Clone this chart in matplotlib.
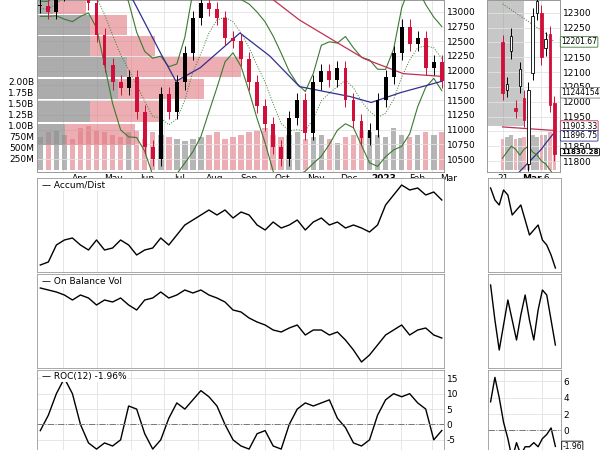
import numpy as np
import pandas as pd
import matplotlib
matplotlib.use("Agg")
import matplotlib.pyplot as plt
import matplotlib.dates as mdates

plt.rcParams["axes.unicode_minus"] = False

# weekly data
closes = [13100, 13000, 13300, 13600, 13500, 13400, 13150, 12600, 12100, 11800,
          11700, 11900, 11300, 10700, 10500, 11600, 11300, 11800, 12300, 12900,
          13150, 13050, 12900, 12550, 12500, 12200, 11800, 11400, 11100, 10700,
          10500, 11200, 11500, 10950, 11800, 12000, 11850, 12050, 11500, 11150,
          10850, 11000, 11500, 11900, 12300, 12750, 12450, 12550, 12050, 12150, 11830]
volume_b = [0.75, 0.85, 0.9, 0.8, 0.7, 0.95, 1.0, 0.9, 0.85, 0.8,
            0.75, 0.85, 0.9, 0.7, 0.85, 0.8, 0.75, 0.7, 0.65, 0.7,
            0.75, 0.8, 0.85, 0.7, 0.75, 0.8, 0.85, 0.9, 0.95, 0.8,
            0.75, 0.8, 0.85, 0.7, 0.75, 0.8, 0.7, 0.6, 0.75, 0.8,
            0.9, 0.85, 0.8, 0.75, 0.95, 0.8, 0.75, 0.8, 0.85, 0.8, 0.85]
accum_dist = [15, 18, 35, 40, 42, 35, 30, 40, 30, 32, 40, 35, 25, 30, 32, 42, 35, 45, 55, 60,
              65, 70, 65, 70, 62, 68, 65, 55, 50, 58, 52, 55, 60, 50, 58, 62, 55, 58, 52, 55,
              52, 48, 55, 75, 85, 95, 90, 92, 85, 88, 80]
obv = [92, 90, 88, 85, 80, 85, 82, 75, 80, 78, 82, 75, 70, 80, 82, 88, 82, 85, 90, 87,
       90, 85, 82, 78, 70, 68, 62, 58, 55, 50, 48, 52, 55, 45, 50, 50, 45, 48, 40, 30,
       18, 25, 35, 45, 50, 55, 45, 50, 52, 45, 42]
roc12 = [-2, 3, 10, 15, 10, 0, -6, -8, -6, -7, -5, 6, 5, -3, -8, -5, 2, 7, 5, 8,
         11, 9, 6, 0, -5, -7, -8, -3, -2, -7, -8, 0, 5, 7, 6, 7, 8, 2, -1, -6,
         -7, -5, 3, 8, 10, 9, 10, 7, 5, -5, -1.96]
dates = pd.date_range("2022-03-11", "2023-03-10", periods=len(closes))

ma200_dates = pd.to_datetime(["2022-03-08", "2022-06-19", "2022-08-17", "2022-10-05", "2022-11-01",
                              "2022-12-03", "2022-12-30", "2023-02-03", "2023-03-10"])
ma200_vals = [14800, 14200, 13700, 13250, 12860, 12500, 12200, 11950, 11903]
ma50_dates = pd.to_datetime(["2022-03-08", "2022-04-25", "2022-06-03", "2022-06-28", "2022-07-12",
                             "2022-08-03", "2022-09-08", "2022-10-05", "2022-11-01", "2022-12-17",
                             "2023-01-05", "2023-02-01", "2023-03-10"])
ma50_vals = [13900, 13500, 13200, 12300, 11820, 12050, 12640, 12250, 11730, 11560, 11460, 11630, 11820]

# volume by price zones (price edges, fraction of panel width)
vbp_edges = [13200, 12966, 12611, 12257, 11885, 11514, 11125, 10736]
vbp_up = [0.04, 0.13, 0.13, 0.22, 0.20, 0.13, 0.07]
vbp_total = [0.12, 0.22, 0.29, 0.50, 0.41, 0.31, 0.24]

# daily detail panel
d_open = [12200, 12040, 12170, 11980, 12053, 12013, 11790, 12097, 12300, 12300, 12180, 12230, 11995]
d_close = [12030, 12060, 12222, 11970, 12110, 11940, 12040, 12290, 12340, 12150, 12210, 11990, 11825]
d_vol = [0.7, 0.75, 0.8, 0.7, 0.72, 0.75, 0.8, 0.78, 0.75, 0.8, 0.78, 0.85, 0.9]
d_ma20 = [12330, 12320, 12310, 12300, 12290, 12280, 12270, 12260, 12250, 12240, 12230, 12215, 12201.67]
d_ma200 = [11915, 11914, 11913, 11912, 11911, 11910, 11909, 11908, 11907, 11906, 11905, 11904, 11903.33]
d_ma50 = [11700, 11720, 11735, 11750, 11765, 11780, 11795, 11810, 11825, 11840, 11860, 11878, 11896.75]
d_lower = [11810, 11830, 11850, 11840, 11820, 11840, 11850, 11830, 11820, 11800, 11790, 11770, 11750]
m_ad = [92, 80, 75, 90, 85, 65, 70, 75, 60, 45, 50, 55, 40, 35, 25, 12]
m_obv = [95, 60, 30, 55, 80, 60, 40, 65, 85, 60, 40, 70, 90, 85, 60, 35]
m_roc = [3.5, 6.5, 4, 1, -1, -3.5, -1.5, -3, -2, -2, -1.5, -2, -1, -0.5, 0.3, -1.96]

# last-value tags: (value, where the tag sits, edge colour, weight)
tags = [(12201.67, 12201.67, "#3a7a30", "normal"), (11903.33, 11918, "#c03050", "normal"),
        (11896.75, 11885, "#303090", "normal"), (11830.28, 11830.28, "black", "bold")]

RED = "#d0103a"
PINK = "#e8a0a8"
GREY = "#a8a8a8"
GRID = "#e2e2e2"
FS = 6.5
BFS = 5.5

fig = plt.figure(figsize=(6, 4.5), dpi=100)


def ax_px(x0, y0, x1, y1):
    return fig.add_axes([x0 / 600, 1 - y1 / 450, (x1 - x0) / 600, (y1 - y0) / 450])


def style(ax):
    for s in ax.spines.values():
        s.set_color("#999999")
        s.set_linewidth(0.6)
    ax.tick_params(length=0, labelsize=FS, pad=2)
    ax.grid(True, color=GRID, lw=0.6)
    ax.set_axisbelow(True)


xlo, xhi = mdates.date2num(pd.Timestamp("2022-03-08")), mdates.date2num(pd.Timestamp("2023-03-12"))
months = pd.date_range("2022-04-01", "2023-03-01", freq="MS")
xs = mdates.date2num(dates)
cl = np.array(closes, dtype=float)
op = np.r_[cl[0], cl[:-1]]
up = cl >= op

# ---- main price panel ----
vax = ax_px(37, 0, 444, 172)
style(vax)
vax.bar(xs, volume_b, width=5, color=np.where(up, GREY, PINK), alpha=0.85, zorder=1)
vax.set_ylim(-0.052, 3.857)
vax.set_xlim(xlo, xhi)
vax.set_yticks([0.25, 0.5, 0.75, 1.0, 1.25, 1.5, 1.75, 2.0])
vax.set_yticklabels(["250M", "500M", "750M", "1.00B", "1.25B", "1.50B", "1.75B", "2.00B"])
vax.grid(False)
vax.set_xticks(mdates.date2num(months))
vax.xaxis.grid(True, color=GRID, lw=0.6)

ax = vax.twinx()
ax.set_zorder(vax.get_zorder() + 1)
ax.patch.set_visible(False)
style(ax)
ax.set_ylim(10280, 13200)
ax.set_xlim(xlo, xhi)
ytr = ax.get_yaxis_transform()
for i in range(len(vbp_up)):
    lo, hi = vbp_edges[i + 1], vbp_edges[i]
    h = (hi - lo) * 0.92
    ax.add_patch(plt.Rectangle((0, lo), vbp_up[i], h, transform=ytr, color="#909090", alpha=0.75, lw=0, zorder=1))
    ax.add_patch(plt.Rectangle((vbp_up[i], lo), vbp_total[i] - vbp_up[i], h, transform=ytr,
                               color="#e07880", alpha=0.6, lw=0, zorder=1))

s = pd.Series(cl)
mid = s.rolling(5, min_periods=2).mean().bfill()
sd = s.rolling(6, min_periods=2).std().bfill().rolling(2, min_periods=1).mean()
ax.plot(xs, mid + 1.8 * sd, color="#3a7a30", lw=0.8, zorder=3)
ax.plot(xs, mid - 1.8 * sd, color="#3a7a30", lw=0.8, zorder=3)
ax.plot(xs, mid, color="#3a7a30", lw=0.7, ls=":", zorder=3)
ax.plot(mdates.date2num(ma200_dates), ma200_vals, color="#c03050", lw=0.9, zorder=3)
ax.plot(mdates.date2num(ma50_dates), ma50_vals, color="#303090", lw=0.9, zorder=3)
for x, o, c, u in zip(xs, op, cl, up):
    col = "black" if u else RED
    ax.vlines(x, min(o, c) - 120, max(o, c) + 120, color=col, lw=0.7, zorder=4)
    ax.bar(x, max(abs(c - o), 15), bottom=min(o, c), width=3.5, color=col, zorder=5)
ax.set_yticks(np.arange(10500, 13001, 250))
ax.set_yticklabels([f"{v}" for v in range(10500, 13001, 250)])
ax.grid(False)
ax.yaxis.grid(True, color=GRID, lw=0.6)
vax.set_xticklabels([])
for m in months:
    lab = "2023" if m.year == 2023 and m.month == 1 else m.strftime("%b")
    vax.text(mdates.date2num(m) + 15, -0.1, lab, ha="center", va="top", fontsize=FS,
             fontweight="bold" if lab == "2023" else "normal")

# ---- daily detail panel ----
dx = np.arange(len(d_close))
dvax = ax_px(487, 0, 560, 172)
style(dvax)
dvax.bar(dx, d_vol, width=0.8, color=np.where(np.array(d_close) >= np.array(d_open), GREY, PINK), alpha=0.8)
dvax.set_ylim(-0.052, 3.857)
dvax.set_yticks([])
dvax.set_xlim(-3.6, 13.3)
dvax.set_xticks([0, 9])
dvax.set_xticklabels([])
dvax.add_patch(plt.Rectangle((0, 1.0), 0.5, 2.9, transform=dvax.get_yaxis_transform(), color="#909090", alpha=0.5, lw=0))
dax = dvax.twinx()
dax.patch.set_visible(False)
style(dax)
dax.set_ylim(11763, 12343)
dax.set_xlim(-3.6, 13.3)
dax.plot(dx, d_ma20, color="#3a7a30", lw=0.7, ls=":")
dax.plot(dx, d_ma200, color="#c03050", lw=0.9)
dax.plot(dx, d_ma50, color="#303090", lw=0.9)
dax.plot(dx, d_lower, color="#3a7a30", lw=0.8)
prev = d_open[0]
for x, o, c in zip(dx, d_open, d_close):
    if c < o:
        fc, ec = RED, RED
    elif c >= prev:
        fc, ec = "white", "black"
    else:
        fc, ec = "black", "black"
    dax.vlines(x, min(o, c) - 25, max(o, c) + 25, color=ec, lw=0.7, zorder=4)
    dax.bar(x, max(abs(c - o), 4), bottom=min(o, c), width=0.6, color=fc, edgecolor=ec, lw=0.6, zorder=5)
    prev = c
dax.set_yticks(np.arange(11800, 12301, 50))
dax.grid(False)
dax.yaxis.grid(True, color=GRID, lw=0.6)
for v, pos, ec, fw in tags:
    dax.text(1.015, pos, f"{v:.2f}", transform=dax.get_yaxis_transform(),
             fontsize=BFS - (0.4 if fw == "bold" else 0), va="center", fontweight=fw, zorder=10,
             bbox=dict(boxstyle="round,pad=0.1", fc="white", ec=ec, lw=0.6))
dax.text(1.015, 12030, "11244154", transform=dax.get_yaxis_transform(), fontsize=BFS, va="center",
         zorder=10, bbox=dict(boxstyle="round,pad=0.1", fc="white", ec="#777777", lw=0.6))
dvax.text(0, -0.1, "21", ha="center", va="top", fontsize=FS)
dvax.text(9, -0.1, "Mar", ha="right", va="top", fontsize=FS, fontweight="bold")
dvax.text(9, -0.1, " 6", ha="left", va="top", fontsize=FS)

# ---- lower indicator panels ----
mx = np.arange(-3, 13)
panels = [(178, 272, accum_dist, m_ad, "Accum/Dist", (8, 102)),
          (274, 368, obv, m_obv, "On Balance Vol", (12, 106)),
          (370, 450, roc12, m_roc, "ROC(12) -1.96%", None)]
for y0, y1, vals, mvals, name, lim in panels:
    a = ax_px(37, y0, 444, y1)
    style(a)
    a.plot(xs, vals, color="black", lw=1.0)
    a.set_xlim(xlo, xhi)
    a.set_xticks(mdates.date2num(months))
    a.set_xticklabels([])
    b = ax_px(488, y0, 561, y1)
    style(b)
    b.plot(mx, mvals, color="black", lw=1.0)
    b.set_xlim(-3.6, 13.3)
    b.set_xticks([0, 9])
    b.set_xticklabels([])
    a.text(0.012, 0.97, "\u2014 " + name, transform=a.transAxes, fontsize=FS, va="top",
           bbox=dict(fc="white", ec="none", pad=0.5))
    if lim is not None:
        a.set_ylim(*lim)
        b.set_ylim(*lim)
        a.set_yticks([])
        b.set_yticks([])
    else:
        a.set_ylim(-8.3, 17.7)
        a.yaxis.tick_right()
        a.set_yticks([15, 10, 5, 0, -5])
        a.axhline(0, color="#777777", lw=0.7, ls="-.")
        b.set_ylim(-2.4, 7.4)
        b.yaxis.tick_right()
        b.set_yticks([6, 4, 2, 0])
        b.axhline(0, color="#777777", lw=0.7, ls="-.")
        b.text(1.02, -1.96, "-1.96", transform=b.get_yaxis_transform(), fontsize=BFS, va="center",
               bbox=dict(boxstyle="round,pad=0.1", fc="white", ec="black", lw=0.6))

fig.savefig("out.png", dpi=100)
